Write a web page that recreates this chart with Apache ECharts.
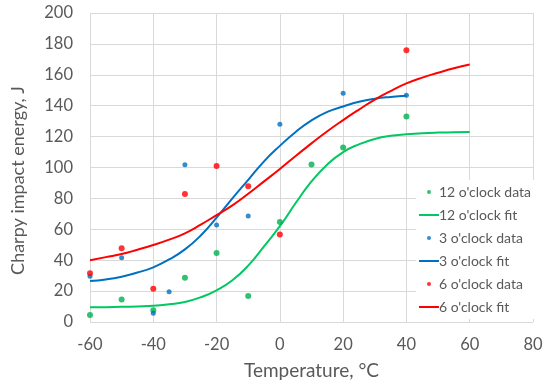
<!DOCTYPE html>
<html><head><meta charset="utf-8">
<script src="https://cdn.jsdelivr.net/npm/echarts@6/dist/echarts.min.js"></script>
<style>html,body{margin:0;padding:0;background:#fff}#c{width:550px;height:387px}</style>
</head><body><div id="c"></div>
<script>
// Data points
const x12 = [-60, -50, -40, -30, -20, -10, 0, 10, 20, 40];
const y12 = [4.5, 14.5, 7.6, 28.7, 44.6, 16.8, 64.7, 102, 113, 133];
const x3 = [-60, -50, -40, -35, -30, -20, -10, 0, 20, 40];
const y3 = [29.6, 41.6, 5.6, 19.6, 101.8, 62.8, 68.6, 128, 148, 146.7];
const x6 = [-60, -50, -40, -30, -20, -10, 0, 40];
const y6 = [31.5, 47.7, 21.6, 82.8, 101, 87.8, 56.7, 175.9];
// Fit curves
const fit12X = [-60,-55,-50,-45,-40,-35,-30,-25,-20,-15,-10,-5,0,5,10,15,20,25,30,35,40,45,50,55,60];
const fit12Y = [9.5,9.6,9.8,10.1,10.5,11.5,13,16,20.5,27,36.5,49,62,77,91,102,110,115,118.5,120.5,121.5,122.2,122.6,122.8,123];
const fit3X = [-60,-55,-50,-45,-40,-35,-30,-25,-20,-15,-10,-5,0,5,10,15,20,25,30,35,40];
const fit3Y = [26.5,27.5,29.3,32,35.4,40.5,47,56,67.5,80,92,104,114,123,130.5,136,139.5,142.5,144.5,145.7,146.5];
const fit6X = [-60,-55,-50,-45,-40,-35,-30,-25,-20,-15,-10,-5,0,5,10,15,20,25,30,35,40,45,50,55,60];
const fit6Y = [40,42,44,46.8,49.8,53.3,57.4,63,69.2,75.5,83,91,99,107.5,115.6,123.5,130.7,137.5,144,149.5,154.4,158.2,161.3,164.2,166.7];
const names = ["12 o'clock data","12 o'clock fit","3 o'clock data","3 o'clock fit","6 o'clock data","6 o'clock fit"];
const xTicks = {min:-60, max:80, interval:20};
const yTicks = {min:0, max:200, interval:20};

const zip = (a,b) => a.map((v,i)=>[v,b[i]]);
const GREEN = '#00b050', BLUE = '#0070c0', RED = '#ff0000';
const GREENL = '#00c862';
const lineIcon = 'path://M0,0H20V2H0Z';
const font = 'Lato, "Open Sans", sans-serif';
const chart = echarts.init(document.getElementById('c'));
chart.setOption({
  animation:false,
  textStyle:{fontFamily:font},
  grid:{left:90, right:17, top:13, bottom:65},
  xAxis:{type:'value', min:xTicks.min, max:xTicks.max, interval:xTicks.interval,
    name:'Temperature, °C', nameLocation:'middle', nameGap:39,
    nameTextStyle:{color:'#595959', fontSize:19, fontFamily:font},
    axisLine:{show:false}, axisTick:{show:false},
    axisLabel:{color:'#595959', fontSize:16.5, margin:14, fontFamily:font},
    splitLine:{lineStyle:{color:'#d9d9d9', width:1}}},
  yAxis:{type:'value', min:yTicks.min, max:yTicks.max, interval:yTicks.interval,
    name:'Charpy impact energy, J', nameLocation:'middle', nameGap:63,
    nameTextStyle:{color:'#595959', fontSize:18, fontFamily:font, padding:[0,26,0,0]},
    axisLine:{show:false}, axisTick:{show:false},
    axisLabel:{color:'#595959', fontSize:16.5, margin:17, fontFamily:font},
    splitLine:{lineStyle:{color:'#d9d9d9', width:1}}},
  legend:{orient:'vertical', left:416, top:180, backgroundColor:'#fff',
    padding:[4,8,4,3], itemWidth:20, itemHeight:4, itemGap:7,
    textStyle:{color:'#595959', fontSize:14, fontFamily:font, lineHeight:16, padding:[0,0,0,-5]},
    data:[
      {name:names[0], icon:'circle'},
      {name:names[1], icon:lineIcon},
      {name:names[2], icon:'circle'},
      {name:names[3], icon:lineIcon},
      {name:names[4], icon:'circle'},
      {name:names[5], icon:lineIcon}
    ]},
  series:[
    {name:names[0], type:'scatter', data:zip(x12,y12), symbolSize:6, itemStyle:{color:GREEN}, z:5},
    {name:names[1], type:'line', data:zip(fit12X,fit12Y), smooth:true, showSymbol:false, lineStyle:{color:GREENL, width:2}, itemStyle:{color:GREENL}},
    {name:names[2], type:'scatter', data:zip(x3,y3), symbolSize:5, itemStyle:{color:BLUE}, z:5},
    {name:names[3], type:'line', data:zip(fit3X,fit3Y), smooth:true, showSymbol:false, lineStyle:{color:BLUE, width:2}, itemStyle:{color:BLUE}},
    {name:names[4], type:'scatter', data:zip(x6,y6), symbolSize:6, itemStyle:{color:RED}, z:5},
    {name:names[5], type:'line', data:zip(fit6X,fit6Y), smooth:true, showSymbol:false, lineStyle:{color:RED, width:2}, itemStyle:{color:RED}}
  ]
});
</script></body></html>
